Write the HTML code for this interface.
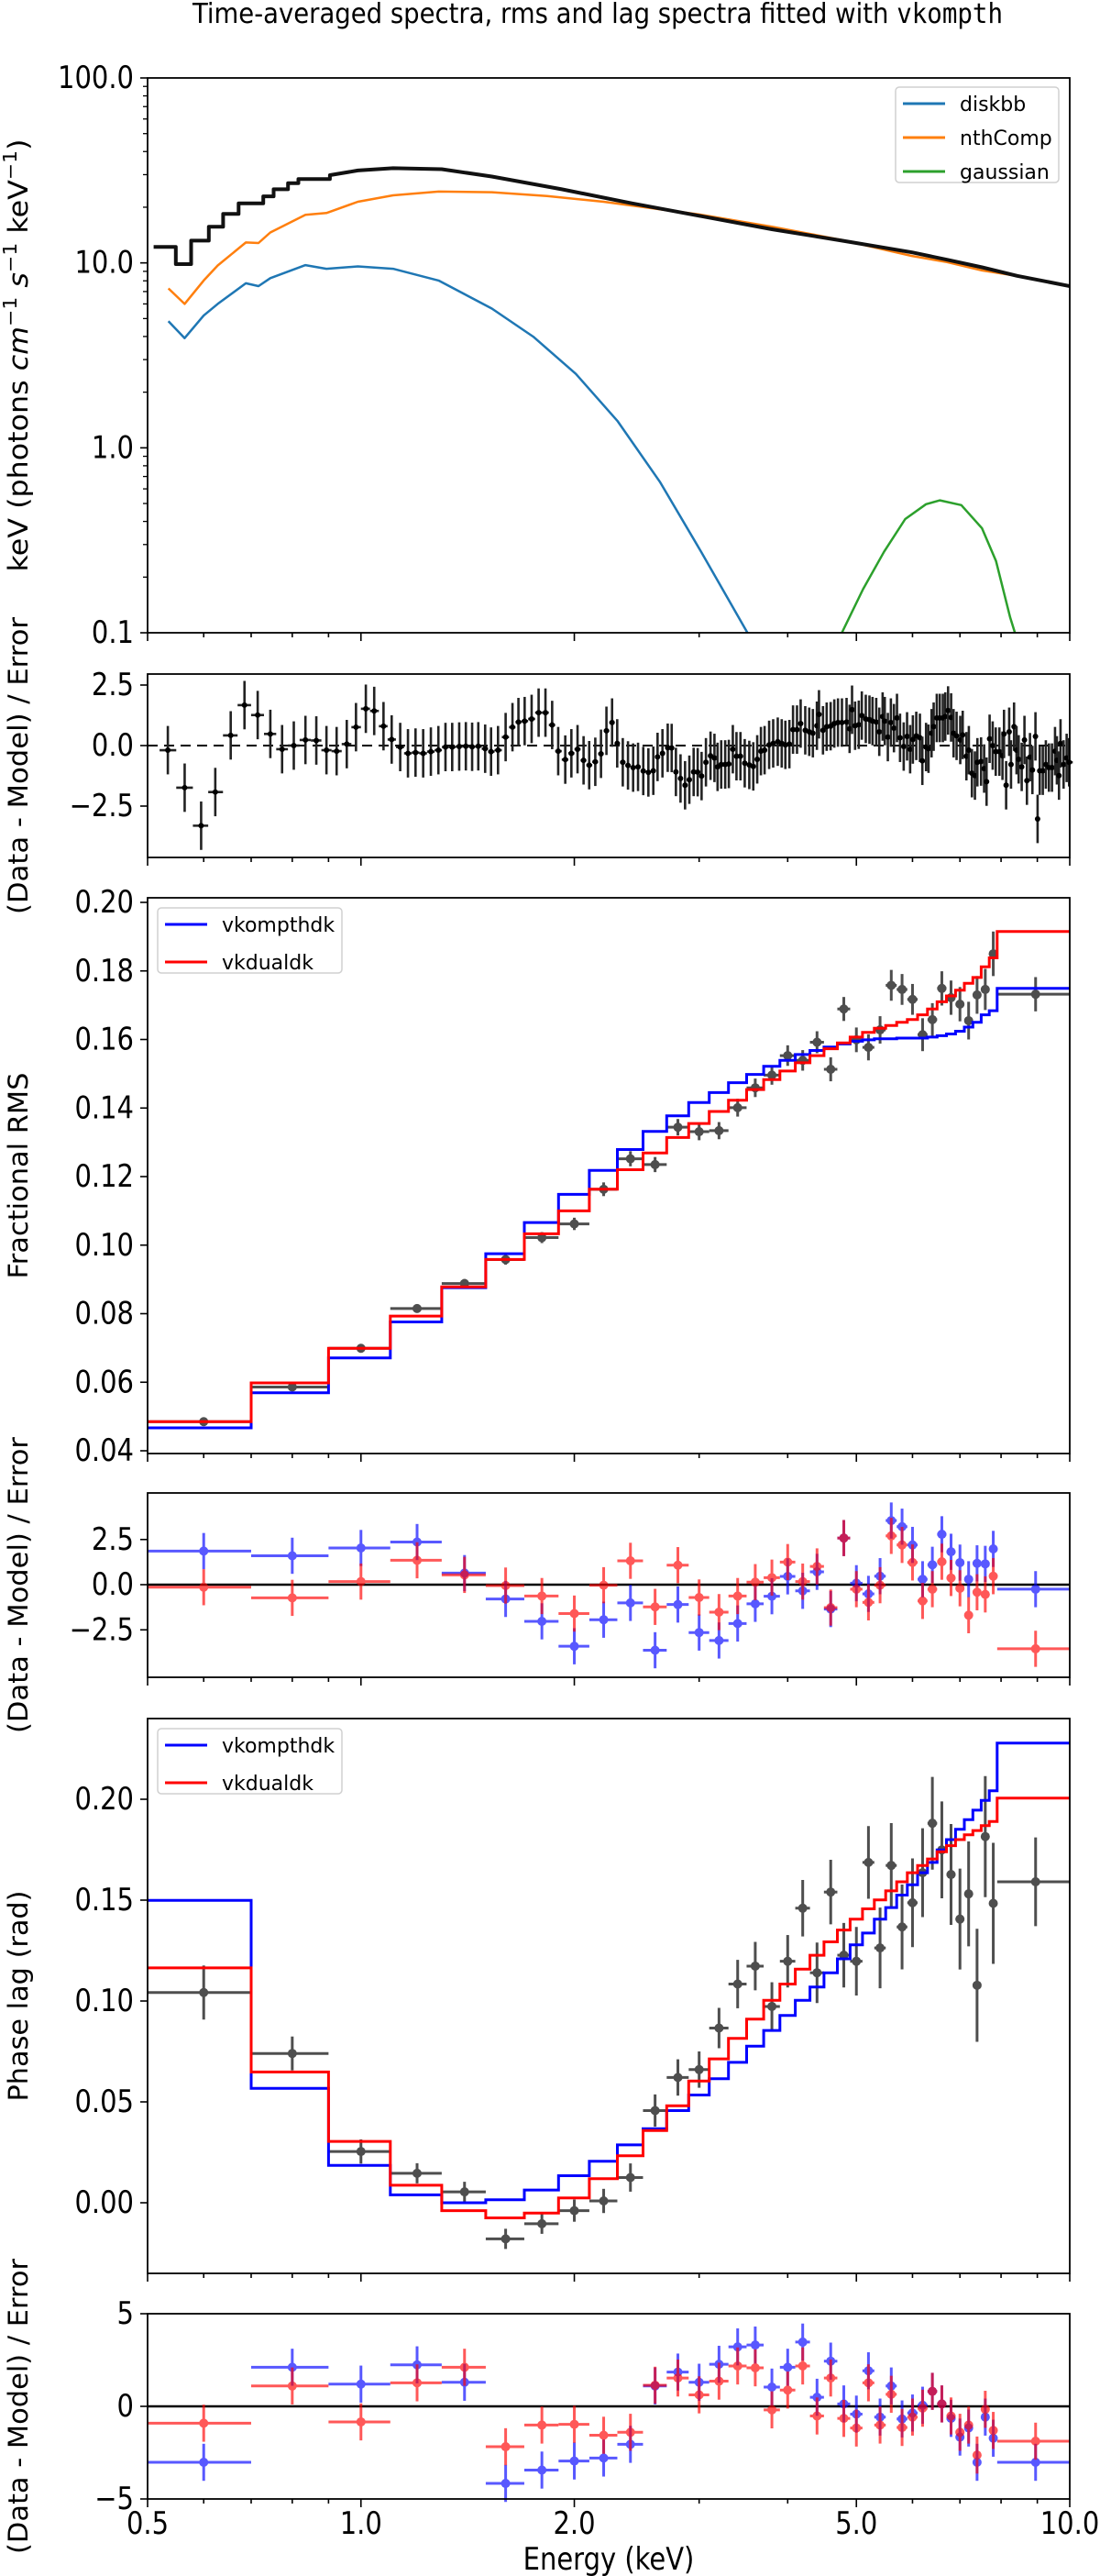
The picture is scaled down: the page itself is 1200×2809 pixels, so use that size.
<!DOCTYPE html>
<html><head><meta charset="utf-8"><title>Time-averaged spectra, rms and lag spectra</title>
<style>
html,body{margin:0;padding:0;background:#fff;}
svg{display:block;font-family:"DejaVu Sans","Liberation Sans",sans-serif;}
</style></head>
<body>
<svg id="chart" width="1200" height="2809" viewBox="0 0 1200 2809" xmlns="http://www.w3.org/2000/svg">
<text x="652" y="25" text-anchor="middle" font-size="27.5" transform="translate(0,25) scale(1,1.1) translate(0,-25)">Time-averaged spectra, rms and lag spectra fitted with <tspan font-family="'DejaVu Sans Mono','Liberation Mono',monospace">vkompth</tspan></text>
</svg>
<script>
// ---------- DATA ----------
// Panel 1: spectrum (keV, photons cm^-1 s^-1 keV^-1)
const specLo=[0.51,0.548,0.576,0.61,0.639,0.672,0.728,0.753,0.789,0.816];
const specHi=[0.548,0.576,0.61,0.639,0.672,0.728,0.753,0.789,0.816,0.904];
const specBinF=[12.2,9.85,13.2,15.7,18.4,21.0,22.9,25.0,27.0,28.4];
const specE=[0.904,0.99,1.11,1.30,1.53,1.92,2.41,3.02,3.80,4.77,5.99,6.71,7.52,8.43,10];
const specF=[29.8,31.6,32.5,32.1,29.3,25.0,21.0,17.9,15.2,13.2,11.4,10.4,9.46,8.51,7.49];
const nthE=[0.535,0.564,0.600,0.628,0.688,0.717,0.745,0.835,0.894,0.990,1.11,1.287,1.53,1.83,2.20,3.02,3.80,4.77,5.99,6.71,7.52,8.43,10];
const nthF=[7.28,6.0,8.03,9.68,12.9,12.8,14.6,18.2,18.6,21.4,23.2,24.3,24.1,23.0,21.4,18.2,15.7,13.3,10.9,10.1,9.1,8.5,7.5];
const dbbE=[0.535,0.564,0.600,0.628,0.688,0.717,0.745,0.835,0.894,0.990,1.11,1.287,1.53,1.75,2.01,2.30,2.64,3.02,3.51];
const dbbF=[4.84,3.92,5.19,6.0,7.76,7.49,8.27,9.73,9.29,9.57,9.29,8.03,5.66,3.99,2.51,1.40,0.656,0.274,0.1];
const gauE=[4.77,5.11,5.47,5.86,6.27,6.56,7.03,7.52,7.87,8.24,8.37];
const gauF=[0.1,0.172,0.274,0.412,0.496,0.52,0.49,0.367,0.244,0.121,0.1];
// Panel 2: spectral residuals
const res1E=[0.534,0.564,0.595,0.623,0.655,0.685,0.715,0.745,0.774,0.804,0.835,0.865,0.894,0.924,0.955,0.984,1.016,1.044,1.076,1.105,1.136,1.165,1.194,1.224,1.255,1.286,1.316,1.345,1.376,1.406,1.435,1.464,1.497,1.526,1.561,1.600,1.636,1.668,1.702,1.741,1.781,1.821,1.861,1.898,1.942,1.981,2.021,2.061,2.099,2.141,2.181,2.220,2.261,
2.299,2.341,2.381,2.421,2.460,2.502,2.544,2.585,2.621,2.663,2.709,2.744,2.782,2.824,2.866,2.906,2.947,2.986,3.024,3.067,3.113,3.153,3.185,3.223,3.265,3.304,3.347,3.387,3.431,3.479,3.531,3.577,3.623,3.667,3.711,3.766,3.816,3.873,3.923,3.970,4.022,4.070,4.123,4.172,4.235,4.290,4.341,4.398,4.428,4.486,4.540,4.599,4.654,4.710,4.771,4.843,4.891,4.930,4.979,5.039,5.089,5.155,5.217,5.269,5.333,5.386,5.445,5.483,5.538,5.593,5.649,5.705,5.762,5.831,5.895,5.954,6.007,6.074,6.146,6.195,6.270,6.320,6.383,6.427,6.492,6.556,6.622,6.674,6.735,6.802,6.856,6.924,7.007,7.063,7.148,7.205,7.277,7.349,7.408,7.497,7.572,7.632,7.708,7.785,7.863,7.957,8.037,8.077,8.133,8.214,8.263,8.345,8.412,8.471,8.555,8.632,8.701,8.788,8.858,8.946,9.008,9.071,9.162,9.253,9.346,9.439,9.533,9.590,9.657,9.705,9.802,9.900,9.979];
const res1V=[-0.19,-1.74,-3.31,-1.92,0.42,1.67,1.26,0.48,-0.15,0,0.23,0.21,-0.19,-0.23,0.06,0.76,1.52,1.43,0.80,0.25,-0.06,-0.32,-0.29,-0.32,-0.25,-0.19,-0.06,-0.06,-0.04,-0.03,-0.05,-0.03,-0.13,-0.25,-0.19,0.35,0.76,0.97,1.01,1.10,1.36,1.36,0.85,-0.23,-0.58,-0.32,-0.15,-0.61,-0.81,-0.67,-0.34,0.61,0.95,
0.09,-0.69,-0.82,-0.91,-0.88,-1.05,-1.11,-1.04,-0.47,-0.32,-0.09,-0.10,-1.09,-1.36,-1.64,-1.41,-1.09,-1.10,-1.26,-0.69,-0.42,-0.51,-0.88,-0.78,-0.78,-0.76,-0.15,-0.44,-0.44,-0.73,-0.80,-0.86,-0.57,-0.23,-0.19,0.03,0.09,0.16,0.09,0.03,0.06,0.66,0.66,0.91,0.63,0.57,0.51,0.82,1.29,0.63,0.78,0.80,0.91,0.95,0.95,0.97,0.69,1.48,0.82,0.86,1.24,1.10,1.07,1.01,0.97,0.57,1.20,1.01,0.35,0.95,0.72,1.14,0.32,-0.04,0.38,-0.15,0.25,0.40,0.32,-0.63,-0.06,-0.13,0.51,0.78,1.14,1.14,1.14,1.20,1.45,1.16,0.51,0.40,0.23,0.44,-0.44,-0.19,-1.14,-1.24,-0.69,-0.66,-0.95,-1.49,0.28,0,-0.25,-0.25,-0.42,0.48,-1.64,0.57,-0.78,0.78,-0.19,-0.57,-0.88,0.23,-1.45,-0.48,-1.01,0.38,-3.03,-1.04,-1.04,-0.78,-0.91,-0.91,-0.23,-0.61,-1.24,0.09,-0.78,-0.51,-0.69];
const res1Err=1.0;
// Bins for rms / lag spectra (keV)
const binEdges=[0.5,0.7,0.9,1.1,1.3,1.5,1.7,1.9,2.1,2.3,2.5,2.7,2.9,3.1,3.3,3.5,3.7,3.9,4.1,4.3,4.5,4.7,4.9,5.1,5.3,5.5,5.7,5.9,6.1,6.3,6.5,6.7,6.9,7.1,7.3,7.5,7.7,7.9,10];
const binCenter=[0.6,0.8,1.0,1.2,1.4,1.6,1.8,2.0,2.2,2.4,2.6,2.8,3.0,3.2,3.4,3.6,3.8,4.0,4.2,4.4,4.6,4.8,5.0,5.2,5.4,5.6,5.8,6.0,6.2,6.4,6.6,6.8,7.0,7.2,7.4,7.6,7.8,8.95];
// Panel 3: fractional rms
const rmsData=[0.0485,0.0586,0.0699,0.0815,0.0888,0.0958,0.1022,0.1062,0.1163,0.1252,0.1235,0.1344,0.1331,0.1334,0.1401,0.1459,0.1496,0.1553,0.1539,0.1592,0.1513,0.1689,0.1599,0.1577,0.1628,0.1758,0.1746,0.1717,0.1614,0.1658,0.1749,0.1722,0.1703,0.1655,0.1730,0.1746,0.1850,0.1732];
const rmsErr=[0.0008,0.0009,0.001,0.0012,0.0013,0.0015,0.0016,0.0018,0.002,0.0022,0.0022,0.0024,0.0025,0.0025,0.0026,0.0027,0.0028,0.003,0.003,0.0032,0.0035,0.0035,0.0036,0.0038,0.004,0.0045,0.0045,0.0045,0.0048,0.0048,0.005,0.005,0.005,0.0055,0.0055,0.006,0.0065,0.005];
const rmsKomp=[0.0467,0.0569,0.0671,0.0776,0.0876,0.0975,0.1066,0.1148,0.1218,0.1279,0.1332,0.1377,0.1416,0.1445,0.1474,0.1498,0.1522,0.1539,0.1556,0.1568,0.1578,0.1587,0.1595,0.1599,0.1602,0.1602,0.1604,0.1604,0.1604,0.1607,0.1611,0.1616,0.1624,0.1636,0.1650,0.1672,0.1684,0.1749];
const rmsDual=[0.0485,0.0598,0.0699,0.0793,0.0878,0.0958,0.1033,0.1100,0.1163,0.1220,0.1269,0.1314,0.1355,0.1390,0.1423,0.1454,0.1483,0.1508,0.1532,0.1553,0.1573,0.1590,0.1607,0.1621,0.1633,0.1641,0.1650,0.1658,0.1672,0.1689,0.1710,0.1727,0.1744,0.1764,0.1781,0.1812,0.1838,0.1915];
// Panel 4: rms residuals
const rmsResKomp=[1.86,1.60,2.03,2.36,0.64,-0.79,-2.03,-3.41,-1.94,-1.01,-3.63,-1.10,-2.65,-3.09,-2.15,-1.06,-0.64,0.46,-0.34,0.71,-1.35,2.58,0.08,-0.51,0.47,3.55,3.21,2.20,0.30,1.10,2.79,1.82,1.22,0.30,1.18,1.15,1.98,-0.25];
const rmsResDual=[-0.14,-0.73,0.17,1.35,0.54,-0.05,-0.63,-1.60,-0.03,1.32,-1.23,1.08,-0.71,-1.52,-0.63,0.14,0.39,1.25,0.17,1.01,-1.27,2.58,-0.25,-0.98,-0.03,2.70,2.20,1.23,-0.90,-0.25,1.27,0.37,-0.20,-1.69,-0.42,-0.54,0.47,-3.55];
// Panel 5: phase lag
const lagData=[0.1042,0.0740,0.0254,0.0146,0.0054,-0.0179,-0.0104,-0.0039,0.0009,0.0125,0.0457,0.0621,0.0660,0.0866,0.1084,0.1173,0.0973,0.1197,0.1460,0.1140,0.1540,0.1227,0.1197,0.1687,0.1263,0.1672,0.1367,0.1487,0.1636,0.1881,0.1749,0.1627,0.1406,0.1531,0.1078,0.1815,0.1484,0.1591];
const lagErr=[0.0134,0.0084,0.006,0.005,0.005,0.005,0.005,0.0055,0.006,0.007,0.008,0.009,0.009,0.01,0.012,0.012,0.012,0.013,0.014,0.015,0.016,0.016,0.017,0.018,0.02,0.021,0.021,0.022,0.022,0.023,0.024,0.025,0.025,0.026,0.028,0.03,0.03,0.022];
const lagKomp=[0.1499,0.0567,0.0185,0.0039,0,0.0015,0.0063,0.0134,0.0206,0.0287,0.0367,0.0457,0.0534,0.0615,0.0696,0.0776,0.0854,0.0928,0.1003,0.1069,0.1140,0.1209,0.1278,0.1337,0.1406,0.1463,0.1525,0.1576,0.1636,0.1687,0.1749,0.1800,0.1851,0.1899,0.1946,0.1994,0.2042,0.2278];
const lagDual=[0.1164,0.0648,0.0304,0.0087,-0.0039,-0.0075,-0.0051,0.0024,0.0119,0.0233,0.0358,0.0481,0.0603,0.0713,0.0815,0.0910,0.1003,0.1084,0.1158,0.1227,0.1293,0.1352,0.1406,0.1457,0.1501,0.1546,0.1591,0.1636,0.1672,0.1704,0.1740,0.1770,0.1800,0.1824,0.1845,0.1869,0.1890,0.2006];
// Panel 6: lag residuals
const lagResKomp=[-3.02,2.11,1.20,2.24,1.30,-4.16,-3.44,-2.95,-2.79,-2.05,1.10,1.85,1.30,2.27,3.21,3.31,1.04,2.11,3.47,0.49,2.44,0.13,-0.42,1.92,-0.58,1.10,-0.68,-0.36,0.06,0.81,0.13,-0.65,-1.66,-1.17,-3.02,-0.58,-1.72,-3.02];
const lagResDual=[-0.91,1.10,-0.84,1.27,2.11,-2.18,-1.01,-0.97,-1.56,-1.40,1.14,1.53,0.62,1.36,2.18,2.08,-0.19,0.88,2.18,-0.52,1.53,-0.65,-1.17,1.27,-1.01,0.65,-1.14,-0.58,-0.10,0.81,0.13,-0.52,-1.40,-1.01,-2.63,-0.16,-1.30,-1.88];
const resErr=1.0;
// Tick labels
const xMajor=[0.5,1,2,5,10];
const xMajorLabels=["0.5","1.0","2.0","5.0","10.0"];
const xMinor=[0.6,0.7,0.8,0.9,3,4,6,7,8,9];
const p1Ticks=[100,10,1,0.1];
const p1Labels=["100.0","10.0","1.0","0.1"];
const resTicks=[2.5,0,-2.5];
const resLabels=["2.5","0.0","\u22122.5"];
const rmsTicks=[0.04,0.06,0.08,0.10,0.12,0.14,0.16,0.18,0.20];
const rmsLabels=["0.04","0.06","0.08","0.10","0.12","0.14","0.16","0.18","0.20"];
const lagTicks=[0,0.05,0.10,0.15,0.20];
const lagLabels=["0.00","0.05","0.10","0.15","0.20"];
const lagResTicks=[5,0,-5];
const lagResLabels=["5","0","\u22125"];

// ---------- AXES ----------
const NS='http://www.w3.org/2000/svg';
const svg=document.getElementById('chart');
const XL=161, XR=1167;
function xs(E){return XL+(XR-XL)*Math.log(E/0.5)/Math.log(20);}
const y1=v=>85+(2-Math.log10(v))*201.67;
const y2=v=>813-v*26.4;
const y3=v=>984+(0.20-v)*3737.5;
const y4=v=>1728-v*19.7;
const y5=v=>2402-v*2200;
const y6=v=>2624-v*20.2;
function mk(tag,attrs,parent){const e=document.createElementNS(NS,tag);for(const k in attrs)e.setAttribute(k,attrs[k]);(parent||svg).appendChild(e);return e;}
function txt(x,y,s,size,anchor,parent){
  const t=mk('text',{x:0,y:0,'font-size':size,'text-anchor':anchor,transform:`translate(${x},${y}) scale(1,1.18)`},parent);
  t.textContent=s;return t;
}
const defs=mk('defs',{});
function clip(id,top,bot){const c=mk('clipPath',{id:id},defs);mk('rect',{x:XL,y:top,width:XR-XL,height:bot-top},c);}

function panel(name,top,bot,yTicks,yLabels,yf,ylabel,ylabelLen){
  const g=mk('g',{});
  
  
  clip(name+'-clip',top,bot);
  // x ticks
  const xt=mk('g',{stroke:'#000','stroke-width':1.6},g);
  
  
  xMajor.forEach(E=>{mk('line',{x1:xs(E),x2:xs(E),y1:bot,y2:bot+9},xt);});
  xMinor.forEach(E=>{mk('line',{x1:xs(E),x2:xs(E),y1:bot,y2:bot+5},xt);});
  // y ticks
  const yt=mk('g',{},g);
  
  
  yTicks.forEach((v,i)=>{
    const y=yf(v);
    mk('line',{x1:XL-8,x2:XL,y1:y,y2:y,stroke:'#000','stroke-width':1.6},yt);
    const t=txt(146,y+11,yLabels[i],29,'end',yt);
    
    
  });
  // y label
  const cy=(top+bot)/2;
  const lab=mk('text',{x:0,y:0,'font-size':29,'text-anchor':'middle',transform:`translate(30,${cy}) rotate(-90)`,textLength:ylabelLen,lengthAdjust:'spacingAndGlyphs'},g);
  
  
  if(typeof ylabel==='string'){lab.textContent=ylabel;}else{ylabel(lab);}
  return {g:g,top:top,bot:bot,frame:()=>{
    const f=mk('rect',{x:XL,y:top,width:XR-XL,height:bot-top,fill:'none',stroke:'#000','stroke-width':1.8},g);
    
    
  }};
}
function polyline(parent,E,V,yf,color,w,name,clipId){
  const pts=E.map((e,i)=>xs(e).toFixed(1)+','+yf(V[i]).toFixed(1)).join(' ');
  const p=mk('polyline',{points:pts,fill:'none',stroke:color,'stroke-width':w,'stroke-linejoin':'round','clip-path':`url(#${clipId})`},parent);
  
  
  return p;
}
function steps(parent,vals,yf,color,name,clipId){
  let d='';
  vals.forEach((v,i)=>{const y=yf(v).toFixed(1);d+=(i===0?'M':'L')+xs(binEdges[i]).toFixed(1)+','+y+'L'+xs(binEdges[i+1]).toFixed(1)+','+y;});
  const p=mk('path',{d:d,fill:'none',stroke:color,'stroke-width':3,'clip-path':`url(#${clipId})`},parent);
  
  
}
function binPoints(parent,vals,errs,yf,color,opacity,r,name){
  const g=mk('g',{opacity:opacity},parent);
  
  
  vals.forEach((v,i)=>{
    const x=xs(binCenter[i]),y=yf(v),e=(typeof errs==='number')?errs:errs[i];
    const pg=mk('g',{},g);
    
    
    mk('line',{x1:xs(binEdges[i]),x2:xs(binEdges[i+1]),y1:y,y2:y,stroke:color,'stroke-width':3},pg);
    mk('line',{x1:x,x2:x,y1:yf(v+e),y2:yf(v-e),stroke:color,'stroke-width':3},pg);
    mk('circle',{cx:x,cy:y,r:r,fill:color},pg);
  });
}
function legend(parent,x,y,w,h,entries,name){
  const g=mk('g',{},parent);
  
  
  mk('rect',{x:x,y:y,width:w,height:h,rx:4,fill:'#fff',stroke:'#ccc','stroke-width':1.5,opacity:0.9},g);
  entries.forEach((en,i)=>{
    const ey=y+18+i*(h-30)/(entries.length-1||1);
    const eg=mk('g',{},g);
    
    
    mk('line',{x1:x+8,x2:x+54,y1:ey,y2:ey,stroke:en[1],'stroke-width':3},eg);
    mk('text',{x:x+70,y:ey+8,'font-size':22},eg).textContent=en[0];
  });
}

// ---------- PANEL 1 ----------
const P1=panel('spectrum-panel',85,690,p1Ticks,p1Labels,y1,lab=>{
  lab.appendChild(document.createTextNode('keV  (photons '));
  const a=mk('tspan',{'font-style':'italic'},lab);a.textContent='cm';
  const b=mk('tspan',{'font-size':20,dy:-12},lab);b.textContent='\u22121';
  const c=mk('tspan',{dy:12},lab);c.textContent=' ';
  const d=mk('tspan',{'font-style':'italic'},lab);d.textContent='s';
  const e=mk('tspan',{'font-size':20,dy:-12},lab);e.textContent='\u22121';
  const f=mk('tspan',{dy:12},lab);f.textContent=' keV';
  const g2=mk('tspan',{'font-size':20,dy:-12},lab);g2.textContent='\u22121';
  const h=mk('tspan',{dy:12},lab);h.textContent=')';
},472);
(function(){
  const mt=mk('g',{stroke:'#000','stroke-width':1.3},P1.g);
  
  
  [0.1,1,10].forEach(d=>{for(let m=2;m<=9;m++){const y=y1(d*m);mk('line',{x1:XL-5,x2:XL,y1:y,y2:y},mt);}});
  polyline(P1.g,dbbE,dbbF,y1,'#1f77b4',2.5,'diskbb-line','spectrum-panel-clip');
  polyline(P1.g,gauE,gauF,y1,'#2ca02c',2.5,'gaussian-line','spectrum-panel-clip');
  polyline(P1.g,nthE,nthF,y1,'#ff7f0e',2.5,'nthcomp-line','spectrum-panel-clip');
  // data (step then continuous)
  let d='';
  specBinF.forEach((f,i)=>{const y=y1(f).toFixed(1);d+=(i===0?'M':'L')+xs(specLo[i]).toFixed(1)+','+y+'L'+xs(specHi[i]).toFixed(1)+','+y;});
  specE.forEach((e,i)=>{d+='L'+xs(e).toFixed(1)+','+y1(specF[i]).toFixed(1);});
  const p=mk('path',{d:d,fill:'none',stroke:'#111','stroke-width':4,'stroke-linejoin':'round','clip-path':'url(#spectrum-panel-clip)'},P1.g);
  
  
  legend(P1.g,977,95,178,104,[['diskbb','#1f77b4'],['nthComp','#ff7f0e'],['gaussian','#2ca02c']],'spectrum-legend');
  P1.frame();
})();

// ---------- PANEL 2 ----------
const P2=panel('spectrum-residual-panel',735,935,resTicks,resLabels,y2,'(Data - Model) / Error',324);
(function(){
  const z=mk('line',{x1:XL,x2:XR,y1:y2(0),y2:y2(0),stroke:'#000','stroke-width':2,'stroke-dasharray':'11,7'},P2.g);
  
  
  const g=mk('g',{stroke:'#222','stroke-width':2.6},P2.g);
  
  
  const n=Math.min(res1E.length,res1V.length);
  for(let i=0;i<n;i++){
    const x=xs(res1E[i]),y=y2(res1V[i]);
    const xl=i>0?(x+xs(res1E[i-1]))/2:x-9, xr=i<n-1?(x+xs(res1E[i+1]))/2:x+4;
    mk('line',{x1:xl,x2:xr,y1:y,y2:y},g);
    mk('line',{x1:x,x2:x,y1:y2(res1V[i]+res1Err),y2:y2(res1V[i]-res1Err)},g);
    mk('circle',{cx:x,cy:y,r:3,fill:'#000',stroke:'none'},g);
  }
  P2.frame();
})();

// ---------- PANEL 3 ----------
const P3=panel('rms-panel',979,1585,rmsTicks,rmsLabels,y3,'Fractional RMS',225);
(function(){
  binPoints(P3.g,rmsData,rmsErr,y3,'#222',0.8,5,'rms-data');
  steps(P3.g,rmsKomp,y3,'#0000ff','rms-vkompthdk-model','rms-panel-clip');
  steps(P3.g,rmsDual,y3,'#ff0000','rms-vkdualdk-model','rms-panel-clip');
  legend(P3.g,172,990,201,71,[['vkompthdk','#0000ff'],['vkdualdk','#ff0000']],'rms-legend');
  P3.frame();
})();

// ---------- PANEL 4 ----------
const P4=panel('rms-residual-panel',1628,1829,resTicks,resLabels,y4,'(Data - Model) / Error',323);
(function(){
  const z=mk('line',{x1:XL,x2:XR,y1:y4(0),y2:y4(0),stroke:'#000','stroke-width':2.5},P4.g);
  
  
  binPoints(P4.g,rmsResKomp,resErr,y4,'#0000ff',0.65,5,'rms-residual-vkompthdk');
  binPoints(P4.g,rmsResDual,resErr,y4,'#ff0000',0.65,5,'rms-residual-vkdualdk');
  P4.frame();
})();

// ---------- PANEL 5 ----------
const P5=panel('lag-panel',1874,2479,lagTicks,lagLabels,y5,'Phase lag (rad)',230);
(function(){
  binPoints(P5.g,lagData,lagErr,y5,'#222',0.8,5,'lag-data');
  steps(P5.g,lagKomp,y5,'#0000ff','lag-vkompthdk-model','lag-panel-clip');
  steps(P5.g,lagDual,y5,'#ff0000','lag-vkdualdk-model','lag-panel-clip');
  legend(P5.g,172,1885,201,71,[['vkompthdk','#0000ff'],['vkdualdk','#ff0000']],'lag-legend');
  P5.frame();
})();

// ---------- PANEL 6 ----------
const P6=panel('lag-residual-panel',2523,2725,lagResTicks,lagResLabels,y6,'(Data - Model) / Error',322);
(function(){
  const z=mk('line',{x1:XL,x2:XR,y1:y6(0),y2:y6(0),stroke:'#000','stroke-width':2.5},P6.g);
  
  
  binPoints(P6.g,lagResKomp,resErr,y6,'#0000ff',0.65,5,'lag-residual-vkompthdk');
  binPoints(P6.g,lagResDual,resErr,y6,'#ff0000',0.65,5,'lag-residual-vkdualdk');
  P6.frame();
  const xl=mk('g',{},svg);
  
  
  xMajor.forEach((E,i)=>{const t=txt(xs(E),2763,xMajorLabels[i],29,'middle',xl);});
  const xt=txt(664,2802,'Energy (keV)',29,'middle',svg);
  
  
})();
</script>
</body></html>
